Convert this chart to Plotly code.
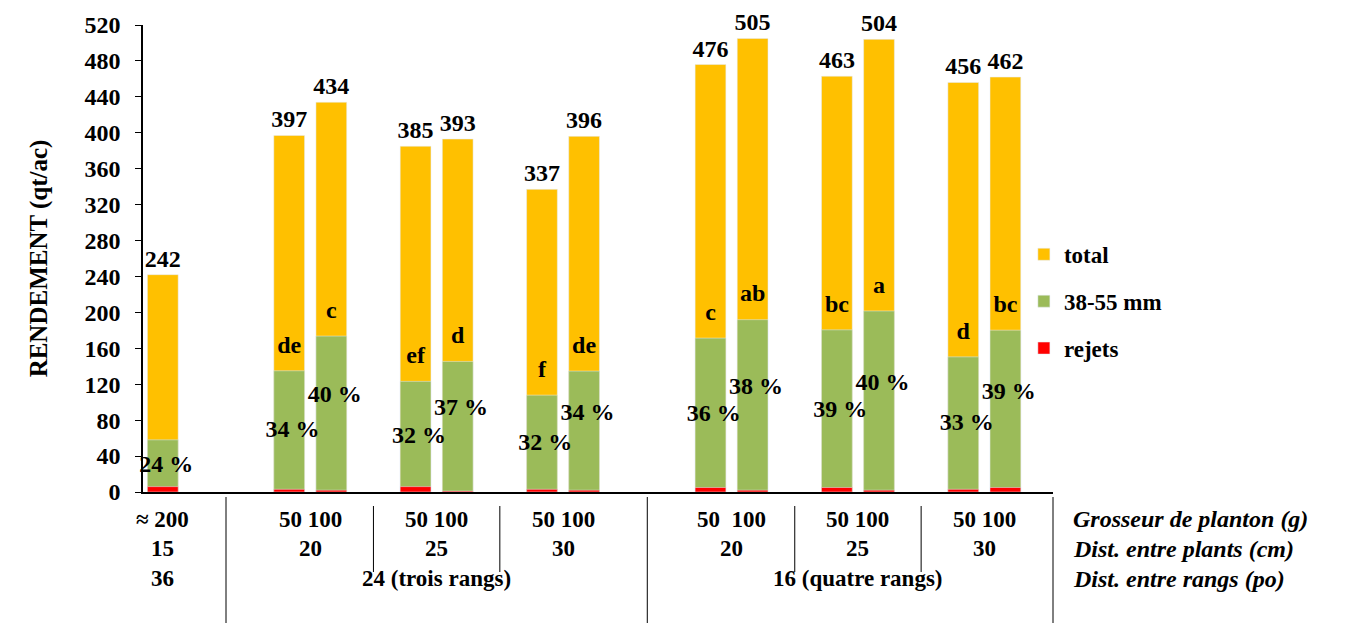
import plotly.graph_objects as go

# Yield data (qt/ac) per treatment
totals = [242, 397, 434, 385, 393, 337, 396, 476, 505, 463, 504, 456, 462]
pct_38_55 = [24, 34, 40, 32, 37, 32, 34, 36, 38, 39, 40, 33, 39]
rejets = [6, 3, 2, 6, 1, 3, 2, 5, 2, 5, 2, 3, 5]
letters = ["", "de", "c", "ef", "d", "f", "de", "c", "ab", "bc", "a", "d", "bc"]

# Category rows under the axis
row_planton = ["≈ 200", "50 100", "50 100", "50 100", "50  100", "50 100", "50 100"]
row_plants = ["15", "20", "25", "30", "20", "25", "30"]
row_rangs = ["36", "24 (trois rangs)", "16 (quatre rangs)"]
row_titles = ["Grosseur de planton (g)", "Dist. entre plants (cm)", "Dist. entre rangs (po)"]

# 38-55 mm yield derived from the stated share of the total
green = [t * p / 100 for t, p in zip(totals, pct_38_55)]

# Bar slots: a single control bar, then two blocks of three pairs
sub_starts = [0, 3, 6, 9, 13, 16, 19]
sub_sizes = [1, 2, 2, 2, 2, 2, 2]
x_pos = [s + k for s, n in zip(sub_starts, sub_sizes) for k in range(n)]
sub_centers = [s + (n - 1) / 2 for s, n in zip(sub_starts, sub_sizes)]
block_centers = [0, (3 + 10) / 2, (13 + 20) / 2]
second_in_pair = [False] + [i % 2 == 0 for i in range(1, len(x_pos))]

ORANGE = "#FFC000"
GREEN = "#9BBB59"
RED = "#FF0000"
FONT = "Liberation Serif, Times New Roman, serif"
BW = 0.73


def bold(size, **kw):
    return dict(family=FONT, size=size, color="black", weight="bold", **kw)


fig = go.Figure()
fig.add_trace(go.Bar(
    x=x_pos, y=totals, width=BW, marker_color=ORANGE, name="total",
    legendgroup="a", text=[str(t) for t in totals], textposition="outside",
    textfont=bold(24), cliponaxis=False, constraintext="none",
))
fig.add_trace(go.Bar(
    x=x_pos, y=green, width=BW, marker_color=GREEN, name="38-55 mm",
    legendgroup="b",
))
fig.add_trace(go.Bar(
    x=x_pos, y=rejets, width=BW, marker_color=RED, name="rejets",
    legendgroup="c",
))

# Significance letters just above the 38-55 mm segment
fig.add_trace(go.Scatter(
    x=x_pos, y=[g + 27 for g in green], mode="text", text=letters,
    textfont=bold(24), showlegend=False, cliponaxis=False, hoverinfo="skip",
))
# Share of 38-55 mm in the total
fig.add_trace(go.Scatter(
    x=[x + 0.08 for x in x_pos],
    y=[g / 2 + (20 if s else 0) for g, s in zip(green, second_in_pair)],
    mode="text", text=[f"{p} %" for p in pct_38_55],
    textfont=bold(24), showlegend=False, cliponaxis=False, hoverinfo="skip",
))

ann = []
lab_font = bold(23)
for xc, t in zip(sub_centers, row_planton):
    ann.append(dict(x=xc, y=0, xref="x", yref="paper", yshift=-27, yanchor="middle",
                    text=t, showarrow=False, font=lab_font))
for xc, t in zip(sub_centers, row_plants):
    ann.append(dict(x=xc, y=0, xref="x", yref="paper", yshift=-56, yanchor="middle",
                    text=t, showarrow=False, font=lab_font))
for xc, t in zip(block_centers, row_rangs):
    ann.append(dict(x=xc, y=0, xref="x", yref="paper", yshift=-86, yanchor="middle",
                    text=t, showarrow=False, font=lab_font))
for i, t in enumerate(row_titles):
    ann.append(dict(x=1, y=0, xref="paper", yref="paper", xshift=18,
                    yshift=-27 - 30 * i, xanchor="left", yanchor="middle",
                    text=t, showarrow=False, font=bold(24, style="italic")))

PLOT_H = 467
shapes = []
for xv in [1.5, 11.5]:
    shapes.append(dict(type="line", xref="x", yref="paper", x0=xv, x1=xv,
                       y0=-5 / PLOT_H, y1=-131 / PLOT_H,
                       line=dict(color="black", width=1)))
shapes.append(dict(type="line", xref="paper", yref="paper", x0=1, x1=1,
                   y0=-5 / PLOT_H, y1=-131 / PLOT_H,
                   line=dict(color="black", width=1)))
for xv in [5, 8, 15, 18]:
    shapes.append(dict(type="line", xref="x", yref="paper", x0=xv, x1=xv,
                       y0=-14 / PLOT_H, y1=-80 / PLOT_H,
                       line=dict(color="black", width=1)))

fig.update_layout(
    width=1346, height=623,
    margin=dict(l=143, r=293, t=25, b=131),
    paper_bgcolor="white", plot_bgcolor="white",
    barmode="overlay",
    showlegend=True,
    legend=dict(x=0.968, y=0.555, xanchor="left", yanchor="top",
                traceorder="grouped", tracegroupgap=14,
                font=bold(23), itemwidth=30, bgcolor="rgba(0,0,0,0)"),
    annotations=ann,
    shapes=shapes,
    font=dict(family=FONT, color="black"),
)
fig.update_xaxes(range=[-0.47, 21.13], showline=True, linecolor="black",
                 linewidth=1.5, showticklabels=False, ticks="", showgrid=False,
                 zeroline=False, fixedrange=True)
fig.update_yaxes(range=[0, 520], tickvals=list(range(0, 521, 40)),
                 showline=True, linecolor="black", linewidth=1.5,
                 ticks="outside", ticklen=6, tickcolor="black",
                 ticklabelstandoff=10, tickfont=bold(24),
                 showgrid=False, zeroline=False,
                 title=dict(text="RENDEMENT (qt/ac)", standoff=30, font=bold(25)))

fig.write_html("out.html")
